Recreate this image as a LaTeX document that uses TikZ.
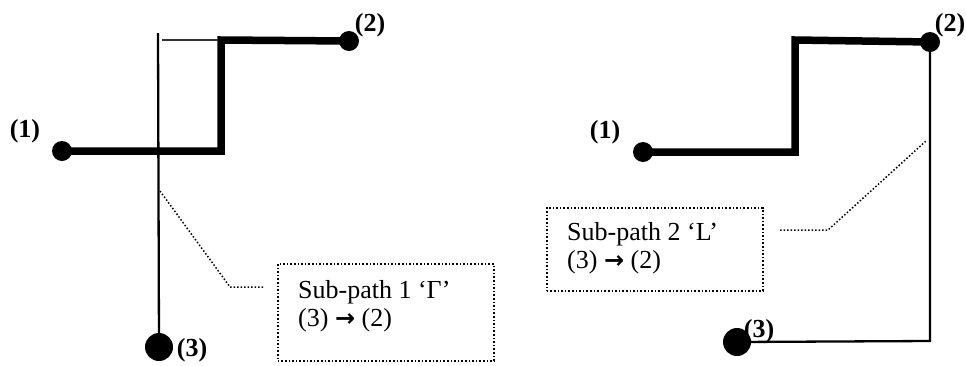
\documentclass[tikz,border=0pt]{standalone}
\usepackage{fontspec}
\setmainfont{Liberation Serif}
\newfontfamily\arrowfont{DejaVu Sans}
\begin{document}
\begin{tikzpicture}[x=1pt,y=-1pt,
  dotsmall/.style={circle,fill=black,inner sep=0pt,minimum size=20pt},
  dotbig/.style={circle,fill=black,inner sep=0pt,minimum size=28pt},
  thickpath/.style={line width=7.5pt,line join=miter},
  thinpath/.style={line width=2.3pt},
  leader/.style={line width=1.5pt,dotted},
  ptlabel/.style={font=\fontsize{26}{30}\selectfont\bfseries,inner sep=0pt},
  callout/.style={draw,dotted,line width=1.6pt,inner sep=0pt},
  callouttext/.style={font=\fontsize{26}{28}\selectfont,align=left,inner sep=0pt,anchor=north west}
]
\useasboundingbox (0,0) rectangle (966,365);
% ---------------- left diagram ----------------
\node[dotsmall] (L1) at (62,151) {};
\node[dotsmall] (L2) at (349,41) {};
\node[dotbig] (L3) at (159,347) {};
\coordinate (La) at (221,151);
\coordinate (Lb) at (221,40);
\coordinate (Ltop) at (158,33);
\coordinate (Lh1) at (162,40);
\coordinate (Lh2) at (218,40);
\draw[thickpath] (L1.center) -- (La) -- (Lb) -- (L2.center);
\draw[thinpath] (Ltop) -- (L3.center);
\draw[line width=1.6pt,black!80] (Lh1) -- (Lh2);
\node[ptlabel] (L1t) at (25,131) {(1)};
\node[ptlabel] (L2t) at (370,25) {(2)};
\node[ptlabel] (L3t) at (192,350) {(3)};
\node[callout,minimum width=216pt,minimum height=97pt,anchor=north west] (LB) at (277,263) {};
\node[callouttext] (LBt) at (298,280) {Sub-path 1 ‘Γ’\\(3) {\arrowfont\fontsize{24}{28}\selectfont\bfseries →} (2)};
\coordinate (Ll1) at (160,191);
\coordinate (Ll2) at (230,287);
\coordinate (Ll3) at (263,287);
\draw[leader] (Ll1) -- (Ll2) -- (Ll3);
% ---------------- right diagram ----------------
\node[dotsmall] (R1) at (643,152) {};
\node[dotsmall] (R2) at (930,42) {};
\node[dotbig] (R3) at (737,342) {};
\coordinate (Ra) at (795,152);
\coordinate (Rb) at (795,40);
\coordinate (Rc) at (930,341);
\draw[thickpath] (R1.center) -- (Ra) -- (Rb) -- (R2.center);
\draw[thinpath] (R2.center) -- (Rc) -- (R3.center);
\node[ptlabel] (R1t) at (605,132) {(1)};
\node[ptlabel] (R2t) at (950,25) {(2)};
\node[ptlabel] (R3t) at (759,331) {(3)};
\node[callout,minimum width=216pt,minimum height=83pt,anchor=north west] (RB) at (546,207) {};
\node[callouttext] (RBt) at (567,222) {Sub-path 2 ‘L’\\(3) {\arrowfont\fontsize{24}{28}\selectfont\bfseries →} (2)};
\coordinate (Rl1) at (780,230);
\coordinate (Rl2) at (828,230);
\coordinate (Rl3) at (927,140);
\draw[leader] (Rl1) -- (Rl2) -- (Rl3);
\end{tikzpicture}
\end{document}
